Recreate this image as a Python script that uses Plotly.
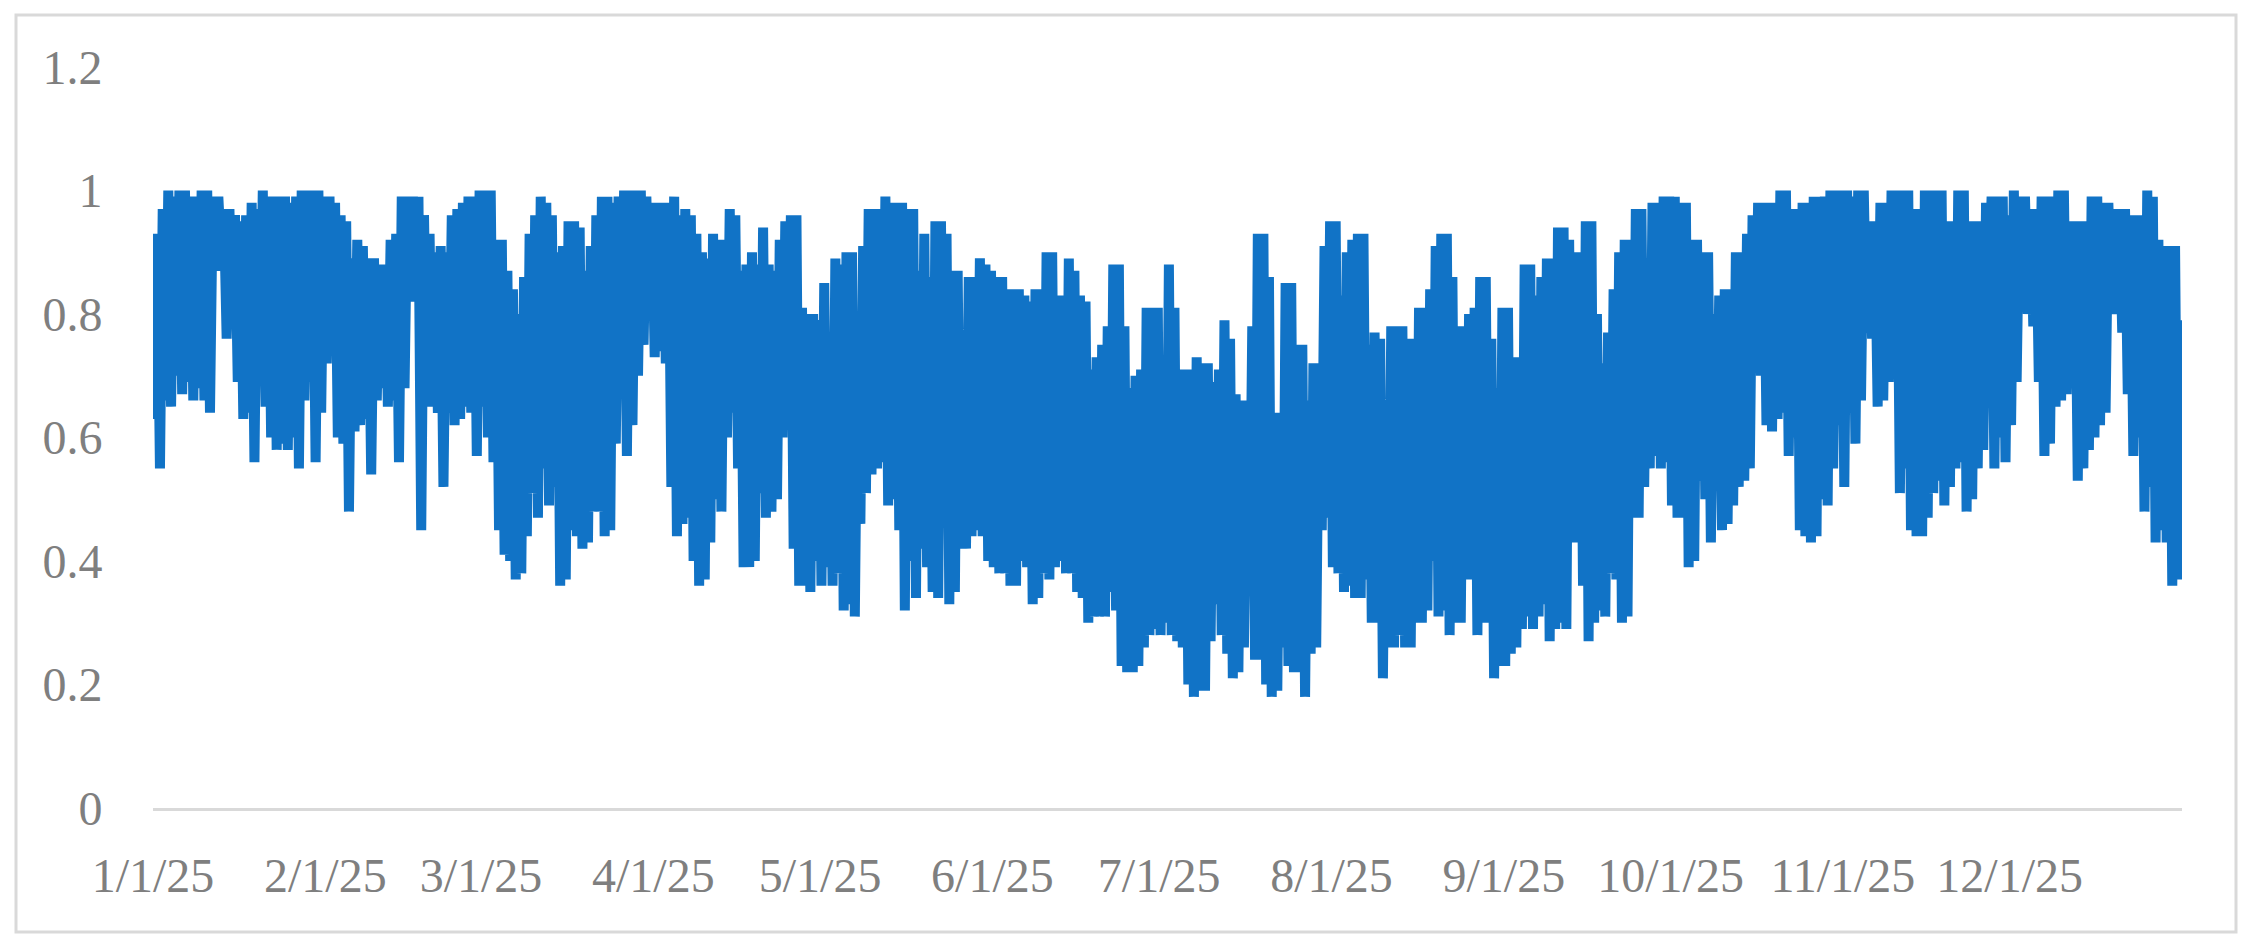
import datetime as dt
import plotly.graph_objects as go

# ---- data: daily high / low of the series ----
start_date = "2025-01-01"

day_max = (
    # Jan
    [0.93, 0.97, 1.0, 0.99, 1.0, 1.0, 0.99, 0.99, 1.0, 1.0, 0.99, 0.99, 0.97, 0.97, 0.96, 0.95,
     0.96, 0.98, 0.97, 1.0, 0.99, 0.99, 0.99, 0.99, 0.98, 0.99, 1.0, 1.0, 1.0, 1.0, 0.99]
    # Feb
    + [0.99, 0.98, 0.96, 0.95, 0.89, 0.92, 0.91, 0.89, 0.89, 0.88, 0.88, 0.92, 0.93, 0.99,
       0.99, 0.99, 0.99, 0.96, 0.93, 0.90, 0.91, 0.90, 0.96, 0.97, 0.98, 0.99, 0.99, 1.0]
    # Mar
    + [1.0, 1.0, 0.92, 0.92, 0.87, 0.84, 0.80, 0.86, 0.93, 0.96, 0.99, 0.98, 0.96, 0.90, 0.91,
       0.95, 0.95, 0.94, 0.87, 0.91, 0.96, 0.99, 0.99, 0.98, 0.99, 1.0, 1.0, 1.0, 1.0, 0.99, 0.98]
    # Apr
    + [0.98, 0.98, 0.98, 0.99, 0.96, 0.97, 0.96, 0.93, 0.90, 0.89, 0.93, 0.92, 0.92, 0.97, 0.96,
       0.87, 0.88, 0.90, 0.88, 0.94, 0.88, 0.87, 0.92, 0.95, 0.96, 0.96, 0.81, 0.80, 0.80, 0.79]
    # May
    + [0.85, 0.77, 0.89, 0.88, 0.90, 0.90, 0.75, 0.91, 0.97, 0.97, 0.97, 0.99, 0.98, 0.98, 0.98,
       0.97, 0.97, 0.87, 0.93, 0.86, 0.95, 0.95, 0.93, 0.87, 0.87, 0.75, 0.86, 0.86, 0.89, 0.88, 0.87]
    # Jun
    + [0.86, 0.86, 0.84, 0.84, 0.84, 0.83, 0.82, 0.84, 0.84, 0.90, 0.90, 0.83, 0.83, 0.89, 0.87,
       0.83, 0.82, 0.71, 0.73, 0.75, 0.78, 0.88, 0.88, 0.78, 0.68, 0.70, 0.71, 0.81, 0.81, 0.81]
    # Jul
    + [0.67, 0.88, 0.81, 0.71, 0.71, 0.71, 0.73, 0.72, 0.72, 0.69, 0.71, 0.79, 0.76, 0.67, 0.66,
       0.66, 0.78, 0.93, 0.93, 0.86, 0.64, 0.64, 0.85, 0.85, 0.75, 0.75, 0.66, 0.72, 0.72, 0.91, 0.95]
    # Aug
    + [0.95, 0.83, 0.90, 0.92, 0.93, 0.93, 0.75, 0.77, 0.76, 0.65, 0.78, 0.78, 0.78, 0.76, 0.76,
       0.81, 0.81, 0.84, 0.91, 0.93, 0.93, 0.86, 0.78, 0.78, 0.80, 0.81, 0.86, 0.86, 0.76, 0.68, 0.81]
    # Sep
    + [0.81, 0.73, 0.73, 0.88, 0.88, 0.83, 0.86, 0.89, 0.89, 0.94, 0.94, 0.92, 0.90, 0.90, 0.95,
       0.95, 0.80, 0.72, 0.77, 0.84, 0.90, 0.92, 0.92, 0.97, 0.97, 0.89, 0.98, 0.98, 0.99, 0.99]
    # Oct
    + [0.99, 0.98, 0.98, 0.92, 0.92, 0.90, 0.90, 0.80, 0.83, 0.84, 0.84, 0.90, 0.90, 0.93, 0.96,
       0.98, 0.98, 0.98, 0.98, 1.0, 1.0, 0.97, 0.97, 0.98, 0.98, 0.99, 0.99, 0.99, 1.0, 1.0, 1.0]
    # Nov
    + [1.0, 0.99, 1.0, 1.0, 0.95, 0.95, 0.98, 0.98, 1.0, 1.0, 1.0, 1.0, 0.97, 0.97, 1.0, 1.0,
       1.0, 1.0, 0.95, 0.95, 1.0, 1.0, 0.95, 0.95, 0.95, 0.98, 0.99, 0.99, 0.99, 0.96]
    # Dec
    + [1.0, 0.99, 0.99, 0.97, 0.97, 0.99, 0.99, 0.99, 1.0, 1.0, 0.95, 0.95, 0.95, 0.95, 0.99,
       0.99, 0.98, 0.98, 0.97, 0.97, 0.97, 0.96, 0.96, 0.96, 1.0, 0.99, 0.92, 0.91, 0.91, 0.91, 0.79]
)

day_min = (
    # Jan
    [0.63, 0.55, 0.66, 0.65, 0.70, 0.67, 0.69, 0.66, 0.68, 0.66, 0.64, 0.87, 0.90, 0.76, 0.78,
     0.69, 0.63, 0.64, 0.56, 0.70, 0.65, 0.60, 0.58, 0.59, 0.58, 0.60, 0.55, 0.66, 0.69, 0.56, 0.64]
    # Feb
    + [0.72, 0.76, 0.60, 0.59, 0.48, 0.61, 0.62, 0.63, 0.54, 0.66, 0.68, 0.65, 0.66, 0.56, 0.68,
       0.83, 0.82, 0.45, 0.66, 0.65, 0.64, 0.52, 0.64, 0.62, 0.63, 0.65, 0.64, 0.57]
    # Mar
    + [0.65, 0.60, 0.56, 0.45, 0.41, 0.40, 0.37, 0.38, 0.44, 0.51, 0.47, 0.55, 0.49, 0.52, 0.36,
       0.37, 0.45, 0.44, 0.42, 0.43, 0.48, 0.48, 0.44, 0.45, 0.59, 0.73, 0.57, 0.62, 0.70, 0.75, 0.81]
    # Apr
    + [0.73, 0.74, 0.72, 0.52, 0.44, 0.46, 0.47, 0.40, 0.36, 0.37, 0.43, 0.50, 0.48, 0.60, 0.64,
       0.55, 0.39, 0.39, 0.40, 0.51, 0.47, 0.48, 0.50, 0.60, 0.65, 0.42, 0.36, 0.36, 0.35, 0.40]
    # May
    + [0.36, 0.39, 0.36, 0.38, 0.32, 0.33, 0.31, 0.46, 0.51, 0.54, 0.55, 0.56, 0.49, 0.50, 0.45,
       0.32, 0.40, 0.34, 0.42, 0.39, 0.35, 0.34, 0.49, 0.33, 0.35, 0.42, 0.42, 0.44, 0.45, 0.44, 0.40]
    # Jun
    + [0.39, 0.38, 0.38, 0.36, 0.36, 0.40, 0.39, 0.33, 0.34, 0.38, 0.37, 0.39, 0.40, 0.38, 0.38,
       0.35, 0.34, 0.30, 0.31, 0.31, 0.31, 0.35, 0.32, 0.23, 0.22, 0.22, 0.23, 0.26, 0.28, 0.29]
    # Jul
    + [0.28, 0.30, 0.28, 0.27, 0.26, 0.20, 0.18, 0.19, 0.19, 0.27, 0.33, 0.28, 0.25, 0.21, 0.22,
       0.26, 0.35, 0.24, 0.24, 0.20, 0.18, 0.19, 0.26, 0.23, 0.22, 0.22, 0.18, 0.25, 0.26, 0.45, 0.47]
    # Aug
    + [0.39, 0.38, 0.35, 0.36, 0.34, 0.34, 0.37, 0.30, 0.30, 0.21, 0.26, 0.26, 0.28, 0.26, 0.26,
       0.30, 0.30, 0.32, 0.40, 0.31, 0.32, 0.28, 0.30, 0.30, 0.37, 0.37, 0.28, 0.30, 0.30, 0.21, 0.23]
    # Sep
    + [0.23, 0.25, 0.26, 0.29, 0.31, 0.29, 0.31, 0.33, 0.27, 0.29, 0.30, 0.29, 0.43, 0.43, 0.36,
       0.27, 0.30, 0.32, 0.31, 0.38, 0.37, 0.30, 0.31, 0.47, 0.47, 0.52, 0.55, 0.57, 0.55, 0.56]
    # Oct
    + [0.49, 0.47, 0.47, 0.39, 0.40, 0.53, 0.50, 0.43, 0.52, 0.45, 0.46, 0.49, 0.52, 0.53, 0.55,
       0.72, 0.70, 0.62, 0.61, 0.63, 0.64, 0.57, 0.60, 0.45, 0.44, 0.43, 0.44, 0.50, 0.49, 0.55, 0.62]
    # Nov
    + [0.52, 0.64, 0.59, 0.66, 0.77, 0.76, 0.65, 0.66, 0.69, 0.70, 0.51, 0.55, 0.45, 0.44, 0.44,
       0.47, 0.51, 0.53, 0.49, 0.52, 0.55, 0.56, 0.48, 0.50, 0.55, 0.58, 0.86, 0.55, 0.60, 0.56]
    # Dec
    + [0.62, 0.69, 0.88, 0.80, 0.78, 0.69, 0.57, 0.59, 0.65, 0.66, 0.67, 0.68, 0.53, 0.55, 0.58,
       0.60, 0.62, 0.64, 0.83, 0.80, 0.77, 0.67, 0.57, 0.60, 0.48, 0.52, 0.43, 0.45, 0.43, 0.36, 0.37]
)

tick_dates = ["2025-01-01", "2025-02-01", "2025-03-01", "2025-04-01", "2025-05-01", "2025-06-01",
              "2025-07-01", "2025-08-01", "2025-09-01", "2025-10-01", "2025-11-01", "2025-12-01"]
tick_text = ["1/1/25", "2/1/25", "3/1/25", "4/1/25", "5/1/25", "6/1/25",
             "7/1/25", "8/1/25", "9/1/25", "10/1/25", "11/1/25", "12/1/25"]
y_tick_vals = [0, 0.2, 0.4, 0.6, 0.8, 1.0, 1.2]
y_tick_text = ["0", "0.2", "0.4", "0.6", "0.8", "1", "1.2"]

assert len(day_max) == 365 and len(day_min) == 365

# build the time series (low in the morning, high in the afternoon of each day)
t0 = dt.datetime.fromisoformat(start_date)
xs, ys = [], []
for i, (lo, hi) in enumerate(zip(day_min, day_max)):
    day = t0 + dt.timedelta(days=i)
    xs.append(day + dt.timedelta(hours=6))
    ys.append(lo)
    xs.append(day + dt.timedelta(hours=18))
    ys.append(hi)

# the page body has an 8px margin, so the figure is drawn 8px in from the window edge
W, H = 2245, 941
ML, MR, MT, MB = 145, 71, 59, 141
pw, ph = W - ML - MR, H - MT - MB

font_family = "Liberation Serif, Times New Roman, serif"
grey = "#7f7f7f"
fsize = 48

fig = go.Figure()
fig.add_trace(go.Scatter(
    x=xs, y=ys, mode="lines",
    line=dict(color="#1173c6", width=10),
    hoverinfo="skip", showlegend=False,
))

fig.update_layout(
    width=W, height=H,
    margin=dict(l=ML, r=MR, t=MT, b=MB, pad=0),
    paper_bgcolor="white", plot_bgcolor="white",
    font=dict(family=font_family, size=fsize, color=grey),
    showlegend=False,
    shapes=[dict(
        type="rect", xref="paper", yref="paper",
        x0=(8 - ML) / pw, x1=(2228 - ML) / pw,
        y0=(H - MB - 924) / ph, y1=(H - MB - 7) / ph,
        line=dict(color="#d9d9d9", width=3), fillcolor="rgba(0,0,0,0)", layer="below",
    )],
)

fig.update_xaxes(
    type="date",
    range=["2025-01-01", "2026-01-01"],
    tickmode="array", tickvals=tick_dates, ticktext=tick_text,
    showgrid=False, zeroline=False,
    showline=True, linecolor="#d9d9d9", linewidth=3,
    ticks="outside", ticklen=23, tickcolor="rgba(0,0,0,0)",
    tickfont=dict(family=font_family, size=fsize, color=grey),
)
fig.update_yaxes(
    range=[0, 1.2],
    tickmode="array", tickvals=y_tick_vals, ticktext=y_tick_text,
    showgrid=False, zeroline=False, showline=False,
    ticks="outside", ticklen=40, tickcolor="rgba(0,0,0,0)",
    tickfont=dict(family=font_family, size=fsize, color=grey),
)

fig.write_html("out.html")
